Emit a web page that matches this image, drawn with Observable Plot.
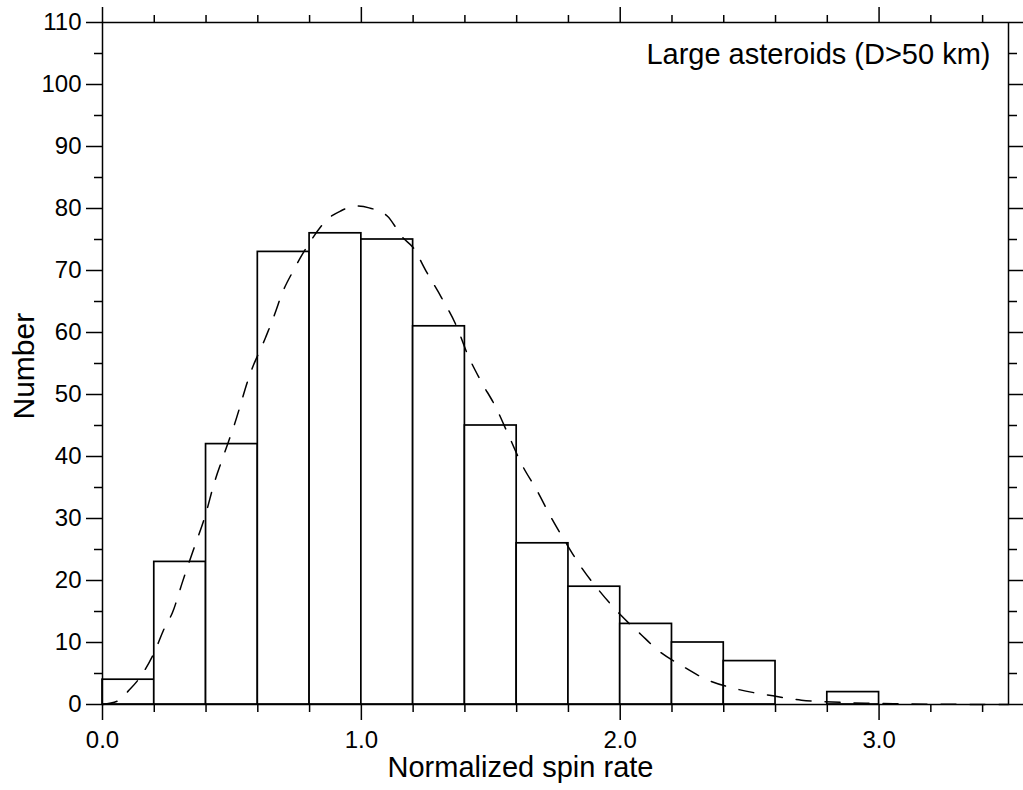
<!DOCTYPE html>
<html><head><meta charset="utf-8">
<script src="https://cdn.jsdelivr.net/npm/d3@7"></script>
<script src="https://cdn.jsdelivr.net/npm/@observablehq/plot@0.6"></script>
<style>body{margin:0;background:#fff} svg{display:block}</style>
</head><body><div id="chart"></div>
<script>
const binStart = [0.0, 0.2, 0.4, 0.6, 0.8, 1.0, 1.2, 1.4, 1.6, 1.8, 2.0, 2.2, 2.4, 2.6, 2.8];
const binEnd   = [0.2, 0.4, 0.6, 0.8, 1.0, 1.2, 1.4, 1.6, 1.8, 2.0, 2.2, 2.4, 2.6, 2.8, 3.0];
const counts   = [4, 23, 42, 73, 76, 75, 61, 45, 26, 19, 13, 10, 7, 0, 2];

const curveX = [0, 0.06, 0.1, 0.14, 0.2, 0.24, 0.27, 0.31, 0.35, 0.40, 0.43, 0.47, 0.51, 0.57, 0.63, 0.67, 0.69, 0.74, 0.80, 0.87, 0.92, 0.98, 1.03, 1.10, 1.16, 1.20, 1.25, 1.31, 1.37, 1.41, 1.46, 1.52, 1.57, 1.62, 1.68, 1.73, 1.79, 1.85, 1.92, 2.0, 2.08, 2.15, 2.24, 2.33, 2.44, 2.59, 2.70, 2.82, 2.95, 3.1, 3.3, 3.5];
const curveY = [0, 0.6, 2.2, 4.1, 8.4, 12.4, 14.8, 19.9, 24.8, 30.9, 35.5, 40.4, 45.2, 53.3, 59.2, 63.5, 65.9, 70.2, 74.5, 78.3, 79.6, 80.4, 80.1, 78.8, 75.3, 73.7, 69.9, 65.6, 60.8, 56.5, 52.3, 47.9, 43.3, 38.7, 34.4, 30.4, 26.1, 22.1, 18.3, 14.5, 11.3, 8.6, 6.2, 4.1, 2.6, 1.4, 0.7, 0.4, 0.2, 0.1, 0.02, 0];

const xMajorTicks = [0, 1, 2, 3];
const xMinorTicks = [0.2, 0.4, 0.6, 0.8, 1.2, 1.4, 1.6, 1.8, 2.2, 2.4, 2.6, 2.8, 3.2, 3.4];
const yMajorTicks = [0, 10, 20, 30, 40, 50, 60, 70, 80, 90, 100, 110];
const yMinorTicks = [5, 15, 25, 35, 45, 55, 65, 75, 85, 95, 105];

const xTitle = "Normalized spin rate";
const yTitle = "Number";
const note = "Large asteroids (D>50 km)";

const bars = counts.map((n, i) => ({x1: binStart[i], x2: binEnd[i], n})).filter(d => d.n > 0);
const curve = curveX.map((x, i) => ({x, y: curveY[i]}));

const sw = 1.5;
const bare = {tickFormat: null, fill: "none", label: null, strokeWidth: sw};
const chart = Plot.plot({
  width: 1023, height: 790,
  marginLeft: 102, marginRight: 15, marginTop: 22, marginBottom: 86,
  style: {fontFamily: "'Liberation Sans', Arial, Helvetica, sans-serif", background: "#fff", color: "#000", overflow: "visible"},
  x: {domain: [0, 3.5]},
  y: {domain: [0, 110]},
  marks: [
    Plot.rectY(bars, {x1: "x1", x2: "x2", y: "n", fill: "white", stroke: "black", strokeWidth: 1.7}),
    Plot.line(curve, {x: "x", y: "y", stroke: "black", strokeWidth: 1.5, strokeDasharray: "15,14", curve: "monotone-x"}),
    Plot.frame({stroke: "black", strokeWidth: sw}),
    Plot.axisX({ticks: xMajorTicks, tickSize: 16, tickPadding: 10, tickFormat: d3.format(".1f"), fontSize: 24, label: null, strokeWidth: sw}),
    Plot.axisX({ticks: xMinorTicks, tickSize: 8, ...bare}),
    Plot.axisX({anchor: "top", ticks: xMajorTicks, tickSize: 16, ...bare}),
    Plot.axisX({anchor: "top", ticks: xMinorTicks, tickSize: 8, ...bare}),
    Plot.axisY({ticks: yMajorTicks, tickSize: 16, tickPadding: 5, tickFormat: d3.format("d"), fontSize: 24, label: null, strokeWidth: sw}),
    Plot.axisY({ticks: yMinorTicks, tickSize: 8, ...bare}),
    Plot.axisY({anchor: "right", ticks: yMajorTicks, tickSize: 16, ...bare}),
    Plot.axisY({anchor: "right", ticks: yMinorTicks, tickSize: 8, ...bare}),
    Plot.text([note], {frameAnchor: "top-right", text: d => d, textAnchor: "end", lineAnchor: "bottom", dx: -18, dy: 41, fontSize: 29}),
    Plot.text([xTitle], {frameAnchor: "bottom", text: d => d, lineAnchor: "bottom", dx: -35, dy: 72, fontSize: 29}),
    Plot.text([yTitle], {frameAnchor: "left", text: d => d, lineAnchor: "bottom", rotate: -90, dx: -69, dy: 56, fontSize: 30})
  ]
});
document.getElementById("chart").appendChild(chart);
</script>
</body></html>
